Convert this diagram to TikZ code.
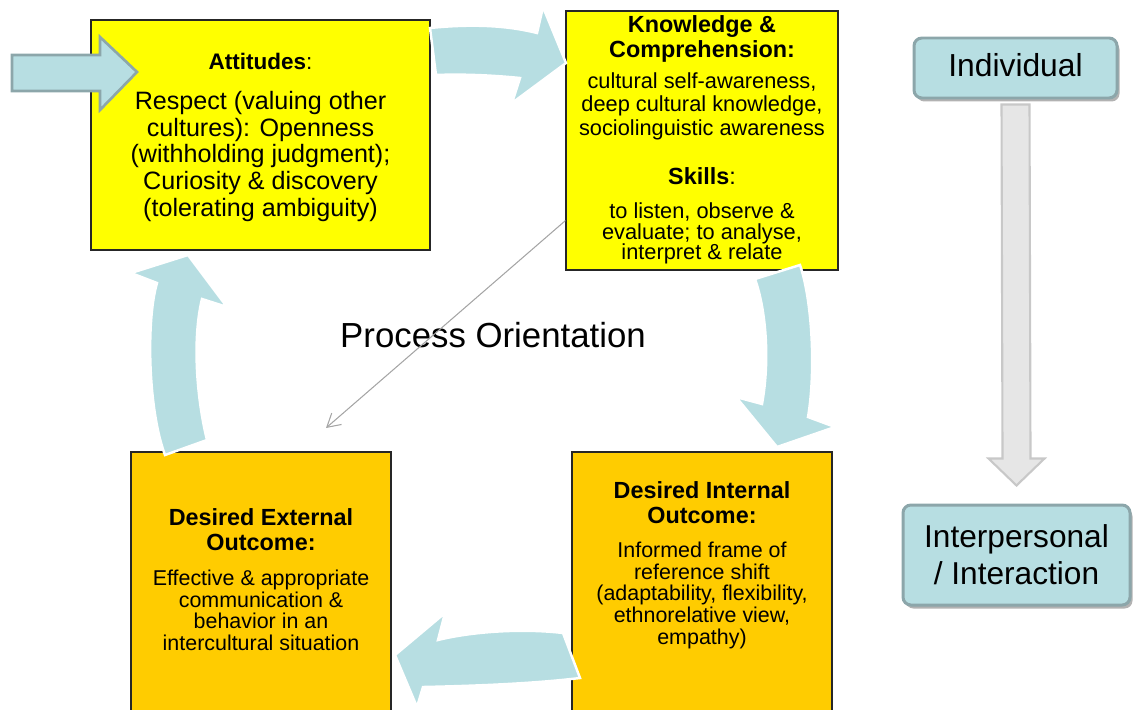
\documentclass[tikz,border=0pt]{standalone}
\usepackage{fontspec}
\setmainfont{Liberation Sans}
\usetikzlibrary{
  positioning,
  shadows,
  arrows.meta,
  calc,
  }

\definecolor{sky}{RGB}{183,222,226}
\definecolor{skyedge}{RGB}{140,166,170}
\definecolor{lemon}{RGB}{255,255,0}
\definecolor{amber}{RGB}{255,204,0}
\definecolor{greyfill}{RGB}{230,230,230}
\definecolor{greyedge}{RGB}{200,200,200}
\definecolor{greyline}{RGB}{165,165,165}

\begin{document}
\begin{tikzpicture}[y=-1cm,
    box/.style={draw=black!85, line width=0.7pt, inner sep=0pt},
    ybox/.style={box, fill=lemon},
    obox/.style={box, fill=amber},
    tag/.style={draw=skyedge, line width=1.7pt, fill=sky, rounded corners=4.5pt, inner sep=0pt,
                drop shadow={shadow xshift=0.05cm, shadow yshift=-0.07cm, opacity=0.3, fill=black}},
    ttl/.style={align=center, inner sep=0pt, font=\fontsize{13.3}{14.2}\selectfont},
    body/.style={align=center, inner sep=0pt},
    blk/.style={fill=sky, draw=white, line width=1.4pt, line join=miter}]

\useasboundingbox (0,0) rectangle (22.76,14.18);
\clip (0,0) rectangle (22.76,14.18);

% the four boxes
\node[ybox, minimum width=6.78cm, minimum height=4.6cm] (att) at (5.21,2.70) {};
\node[ybox, minimum width=5.44cm, minimum height=5.18cm] (know) at (14.04,2.81) {};
\node[obox, minimum width=5.20cm, minimum height=6.16cm] (ext) at (5.22,12.12) {};
\node[obox, minimum width=5.20cm, minimum height=6.16cm] (intl) at (14.04,12.12) {};

% texts in the boxes
\node[ttl, font=\fontsize{12.8}{14}\selectfont, below=0.66cm of att.north] (attttl) {\textbf{Attitudes}:};
\node[body, font=\fontsize{14.3}{15.3}\selectfont, below=0.42cm of attttl] (attbody)
  {Respect (valuing other\\cultures): Openness\\(withholding judgment);\\Curiosity \& discovery\\(tolerating ambiguity)};

\node[ttl, below=0.09cm of know.north] (knowttl) {\textbf{Knowledge \&}\\\textbf{Comprehension:}};
\node[body, font=\fontsize{12.4}{13.3}\selectfont, below=0.2cm of knowttl] (knowbody)
  {cultural self-awareness,\\deep cultural knowledge,\\sociolinguistic awareness};
\node[ttl, below=0.55cm of knowbody] (skillttl) {\textbf{Skills}:};
\node[body, font=\fontsize{12.4}{11.9}\selectfont, below=0.33cm of skillttl] (skillbody)
  {to listen, observe \&\\evaluate; to analyse,\\interpret \& relate};

\node[ttl, below=1.13cm of ext.north] (extttl) {\textbf{Desired External}\\\textbf{Outcome:}};
\node[body, font=\fontsize{12.2}{12.3}\selectfont, below=0.38cm of extttl] (extbody)
  {Effective \& appropriate\\communication \&\\behavior in an\\intercultural situation};

\node[ttl, below=0.59cm of intl.north] (intlttl) {\textbf{Desired Internal}\\\textbf{Outcome:}};
\node[body, font=\fontsize{12.2}{12.3}\selectfont, below=0.36cm of intlttl] (intlbody)
  {Informed frame of\\reference shift\\(adaptability, flexibility,\\ethnorelative view,\\empathy)};

% cycle arrows
\draw[blk] (8.60,0.56) .. controls (9.40,0.48) and (10.10,0.50) .. (10.74,0.66) -- (10.86,0.14)
  -- (11.32,1.26) -- (10.24,2.06) -- (10.40,1.56) .. controls (9.80,1.50) and (9.20,1.48) .. (8.72,1.50) -- cycle;
\draw[blk] (16.00,5.30) .. controls (16.24,6.00) and (16.32,7.40) .. (16.16,8.34) -- (16.70,8.54)
  -- (15.54,8.94) -- (14.72,7.94) -- (15.24,8.08) .. controls (15.40,7.20) and (15.32,6.20) .. (15.10,5.58) -- cycle;
\draw[blk] (11.26,12.66) .. controls (10.40,12.56) and (9.40,12.64) .. (8.76,12.80) -- (8.90,12.26)
  -- (7.90,13.10) -- (8.34,14.14) -- (8.46,13.74) .. controls (9.40,13.72) and (10.60,13.68) .. (11.60,13.56) -- cycle;
\draw[blk] (4.14,8.80) .. controls (3.94,8.00) and (3.84,6.80) .. (4.04,5.98) -- (4.54,6.14)
  -- (3.76,5.10) -- (2.62,5.46) -- (3.14,5.66) .. controls (2.92,6.40) and (2.96,8.20) .. (3.30,9.10) -- cycle;

% entry arrow
\draw[fill=sky, draw=skyedge, line width=1.5pt, line join=miter] (0.24,1.10) -- (2.00,1.10) -- (2.00,0.74)
  -- (2.74,1.44) -- (2.00,2.20) -- (2.00,1.82) -- (0.24,1.82) -- cycle;

% process orientation
\node[font=\fontsize{19.8}{22}\selectfont] (proc) at (9.86,6.70) {Process Orientation};
\coordinate (po) at (6.52,8.56);
\draw[greyline, line width=0.6pt, -{Straight Barb[angle=60:3mm]}] ([yshift=1cm]know.south west) -- (po);

% individual to interpersonal
\node[tag, minimum width=4.06cm, minimum height=1.20cm, text depth=0.4em,
      font=\fontsize{18.1}{21}\selectfont] (indiv) at (20.31,1.36) {Individual};
\node[tag, minimum width=4.54cm, minimum height=2.0cm, align=center,
      font=\fontsize{18}{21}\selectfont] (inter) at (20.33,11.10) {Interpersonal\\/ Interaction};
\draw[fill=greyfill, draw=greyedge, line width=1.2pt]
  ($(indiv.south)+(-0.28,0.10)$) -- ($(indiv.south)+(0.28,0.10)$) -- ($(inter.north)+(0.28,-0.90)$)
  -- ($(inter.north)+(0.56,-0.90)$) -- ($(inter.north)+(0,-0.36)$) -- ($(inter.north)+(-0.56,-0.90)$)
  -- ($(inter.north)+(-0.28,-0.90)$) -- cycle;
\end{tikzpicture}
\end{document}
